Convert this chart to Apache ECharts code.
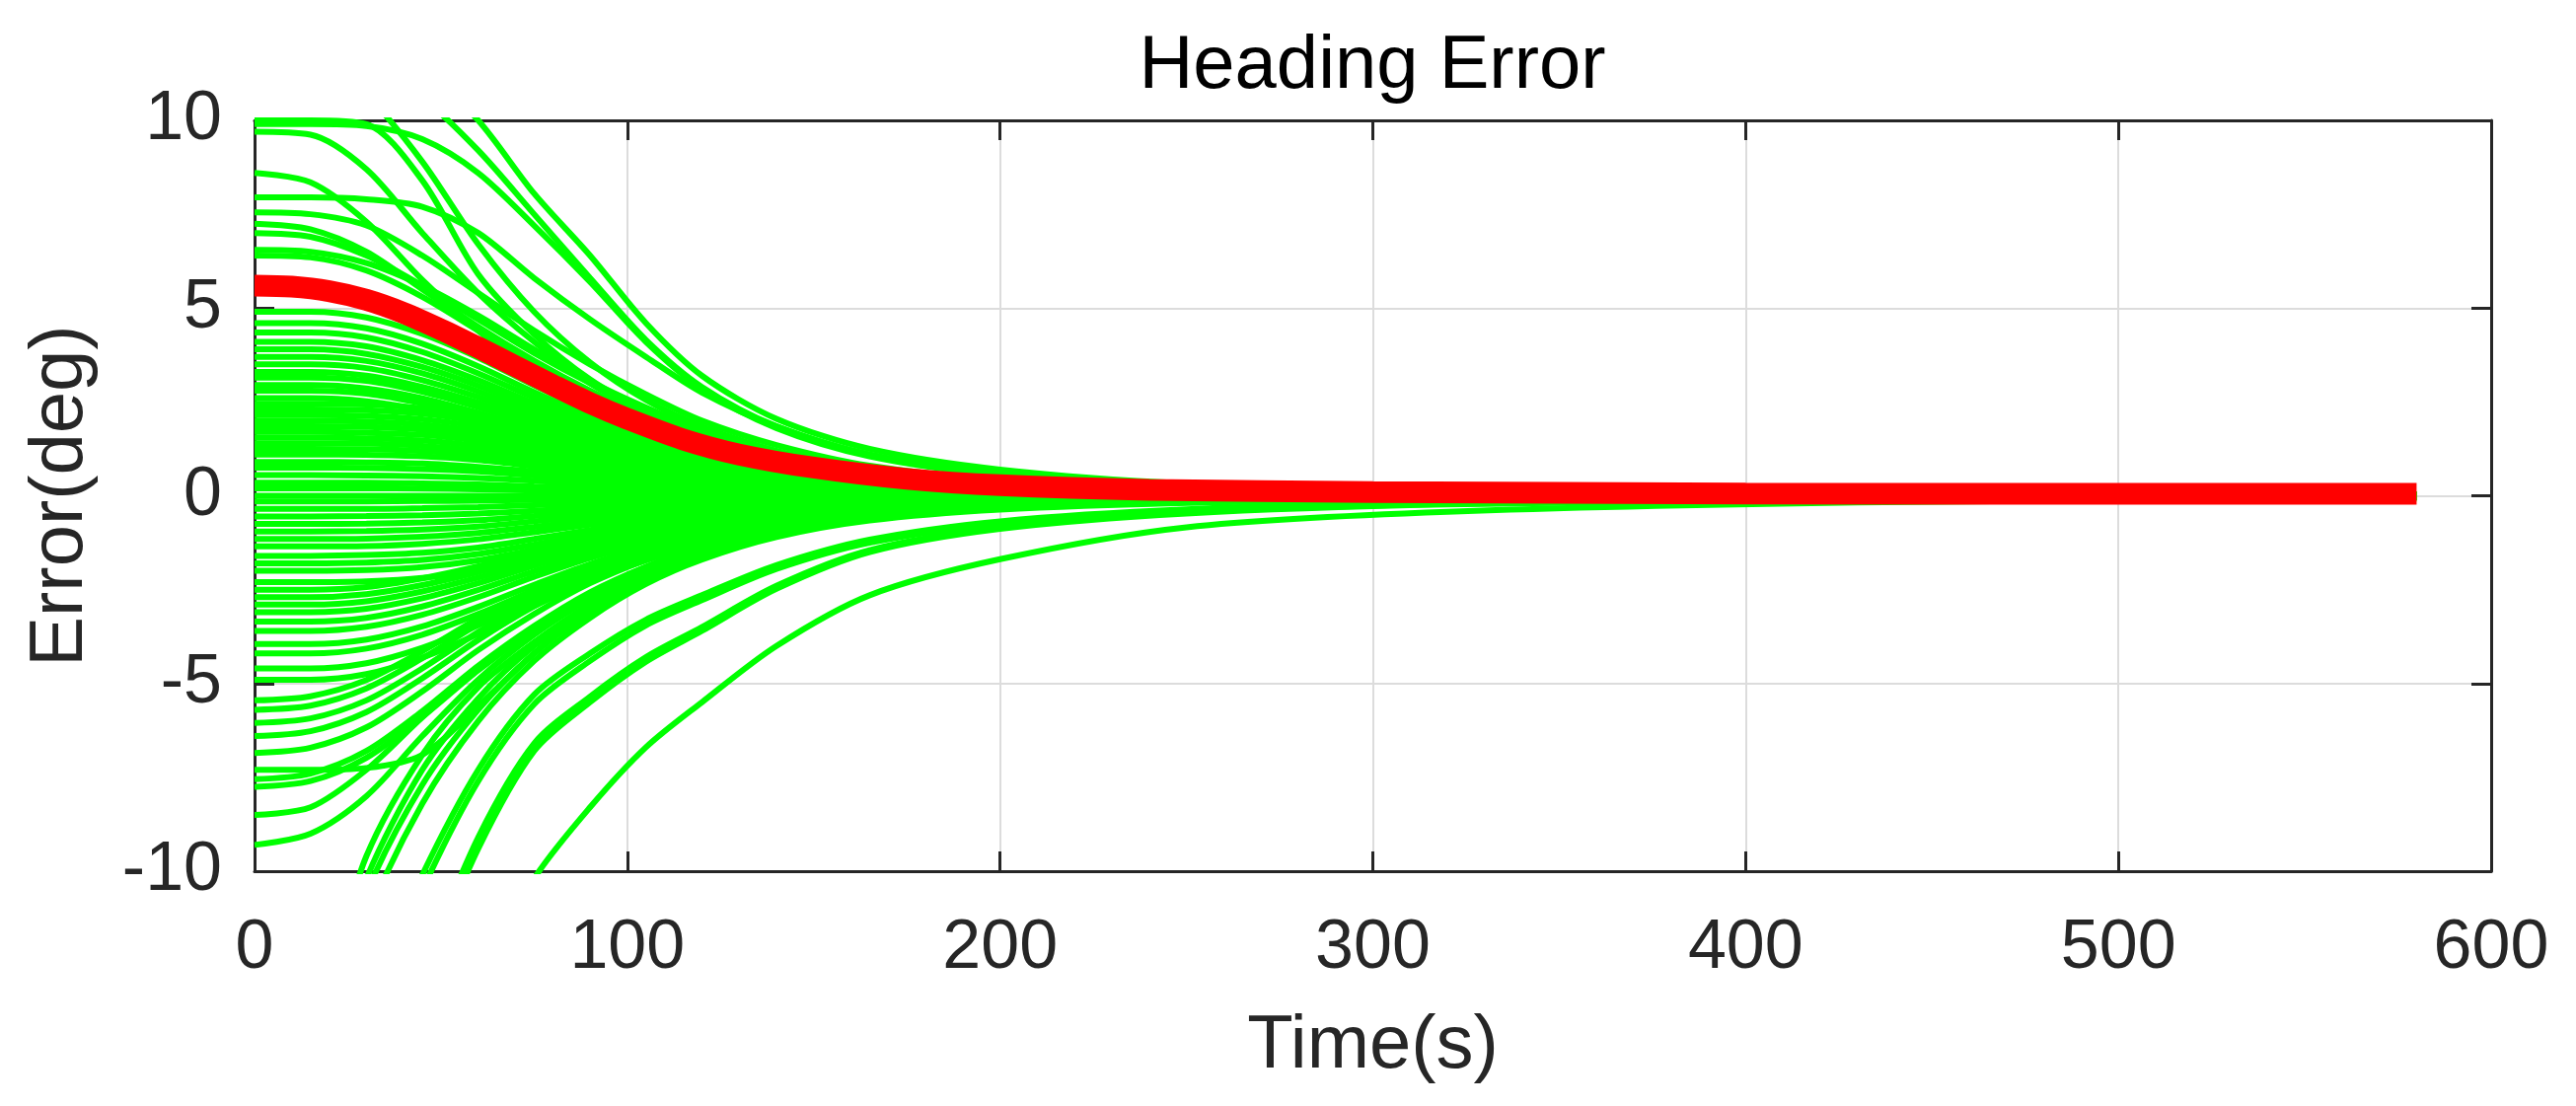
<!DOCTYPE html>
<html>
<head>
<meta charset="utf-8">
<script src="https://cdn.jsdelivr.net/npm/echarts@6/dist/echarts.min.js"></script>
<style>
html,body{margin:0;padding:0;background:#fff;}
#chart{width:2611px;height:1121px;}
</style>
</head>
<body>
<div id="chart"></div>
<script>
// ---------- data ----------
const xTicks = [0, 100, 200, 300, 400, 500, 600];
const yTicks = [-10, -5, 0, 5, 10];

// shared time samples (s) for the green runs
const timeGrid = [0, 15, 30, 45, 60, 75, 90, 105, 120, 140, 165, 200, 250, 320, 430, 580];

// runs that start high (some enter from above the axis)
const greenUpper = [
  [10.0, 10.0, 9.9, 8.4, 5.9, 4.3, 3.1, 2.25, 1.6, 1.05, 0.62, 0.33, 0.16, 0.08, 0.04, 0.02],
  [12.5, 12.0, 10.7, 8.9, 6.7, 4.9, 3.55, 2.55, 1.85, 1.2, 0.7, 0.37, 0.18, 0.09, 0.04, 0.02],
  [12.0, 11.9, 11.5, 10.6, 9.2, 7.5, 5.8, 4.15, 2.9, 1.85, 1.1, 0.6, 0.3, 0.14, 0.06, 0.03],
  [12.6, 12.5, 12.2, 11.4, 10.0, 8.05, 6.4, 4.6, 3.2, 2.05, 1.25, 0.7, 0.33, 0.16, 0.07, 0.03],
  [9.9, 9.9, 9.85, 9.5, 8.6, 7.2, 5.7, 4.1, 2.85, 1.8, 1.05, 0.55, 0.27, 0.13, 0.06, 0.03],
  [9.7, 9.62, 8.7, 7.0, 5.4, 4.1, 3.0, 2.2, 1.6, 1.0, 0.6, 0.32, 0.16, 0.08, 0.04, 0.02],
  [8.6, 8.35, 7.3, 5.75, 4.4, 3.3, 2.45, 1.8, 1.3, 0.85, 0.5, 0.27, 0.14, 0.07, 0.03, 0.015],
  [7.95, 7.95, 7.9, 7.7, 7.0, 5.8, 4.7, 3.7, 2.75, 1.85, 1.1, 0.58, 0.28, 0.13, 0.06, 0.03],
  [7.55, 7.5, 7.2, 6.4, 5.4, 4.4, 3.5, 2.7, 2.0, 1.35, 0.8, 0.42, 0.2, 0.1, 0.05, 0.02],
  [7.25, 7.1, 6.5, 5.5, 4.5, 3.6, 2.8, 2.1, 1.55, 1.0, 0.6, 0.32, 0.16, 0.08, 0.04, 0.02],
  [7.0, 6.9, 6.4, 5.6, 4.7, 3.8, 3.0, 2.3, 1.7, 1.1, 0.65, 0.35, 0.17, 0.08, 0.04, 0.02],
  [6.55, 6.5, 6.2, 5.6, 4.8, 3.9, 3.05, 2.35, 1.75, 1.15, 0.68, 0.36, 0.18, 0.09, 0.04, 0.02],
  [6.4, 6.35, 6.0, 5.3, 4.4, 3.5, 2.7, 2.0, 1.5, 1.0, 0.6, 0.32, 0.16, 0.08, 0.04, 0.02]
];

// dense band of runs with moderate positive start
const greenMidPos = [
  [4.9, 4.9, 4.75, 4.31, 3.68, 2.94, 2.25, 1.72, 1.27, 0.83, 0.49, 0.27, 0.14, 0.07, 0.03, 0.01],
  [4.6, 4.6, 4.46, 4.05, 3.45, 2.76, 2.12, 1.61, 1.2, 0.78, 0.46, 0.25, 0.13, 0.06, 0.03, 0.01],
  [4.35, 4.35, 4.22, 3.83, 3.26, 2.61, 2.0, 1.52, 1.13, 0.74, 0.44, 0.24, 0.12, 0.06, 0.03, 0.01],
  [4.1, 4.1, 3.98, 3.61, 3.08, 2.46, 1.89, 1.44, 1.07, 0.7, 0.41, 0.23, 0.11, 0.06, 0.02, 0.01],
  [3.9, 3.9, 3.78, 3.43, 2.93, 2.34, 1.79, 1.37, 1.01, 0.66, 0.39, 0.21, 0.11, 0.05, 0.02, 0.01],
  [3.7, 3.7, 3.59, 3.26, 2.78, 2.22, 1.7, 1.3, 0.96, 0.63, 0.37, 0.2, 0.1, 0.05, 0.02, 0.01],
  [3.5, 3.5, 3.4, 3.08, 2.63, 2.1, 1.61, 1.23, 0.91, 0.6, 0.35, 0.19, 0.1, 0.05, 0.02, 0.01],
  [3.3, 3.3, 3.2, 2.9, 2.48, 1.98, 1.52, 1.16, 0.86, 0.56, 0.33, 0.18, 0.09, 0.05, 0.02, 0.01],
  [3.15, 3.15, 3.06, 2.77, 2.36, 1.89, 1.45, 1.1, 0.82, 0.54, 0.32, 0.17, 0.09, 0.04, 0.02, 0.01],
  [2.95, 2.95, 2.86, 2.6, 2.21, 1.77, 1.36, 1.03, 0.77, 0.5, 0.3, 0.16, 0.08, 0.04, 0.02, 0.01],
  [2.8, 2.8, 2.72, 2.46, 2.1, 1.68, 1.29, 0.98, 0.73, 0.48, 0.28, 0.15, 0.08, 0.04, 0.02, 0.01],
  [2.6, 2.6, 2.52, 2.29, 1.95, 1.56, 1.2, 0.91, 0.68, 0.44, 0.26, 0.14, 0.07, 0.04, 0.02, 0.01],
  [2.45, 2.45, 2.43, 2.33, 2.11, 1.76, 1.4, 1.08, 0.81, 0.54, 0.32, 0.17, 0.09, 0.04, 0.02, 0.01],
  [2.3, 2.3, 2.28, 2.19, 1.98, 1.66, 1.31, 1.01, 0.76, 0.51, 0.3, 0.16, 0.08, 0.04, 0.02, 0.01],
  [2.15, 2.15, 2.13, 2.04, 1.85, 1.55, 1.23, 0.95, 0.71, 0.47, 0.28, 0.15, 0.08, 0.04, 0.02, 0.01],
  [2.0, 2.0, 1.98, 1.9, 1.72, 1.44, 1.14, 0.88, 0.66, 0.44, 0.26, 0.14, 0.07, 0.04, 0.02, 0.01],
  [1.85, 1.85, 1.83, 1.76, 1.59, 1.33, 1.05, 0.81, 0.61, 0.41, 0.24, 0.13, 0.06, 0.03, 0.01, 0.01],
  [1.7, 1.7, 1.68, 1.62, 1.46, 1.22, 0.97, 0.75, 0.56, 0.37, 0.22, 0.12, 0.06, 0.03, 0.01, 0.01],
  [1.55, 1.55, 1.53, 1.47, 1.33, 1.12, 0.88, 0.68, 0.51, 0.34, 0.2, 0.11, 0.05, 0.03, 0.01, 0.01],
  [1.4, 1.4, 1.39, 1.33, 1.2, 1.01, 0.8, 0.62, 0.46, 0.31, 0.18, 0.1, 0.05, 0.03, 0.01, 0],
  [1.25, 1.25, 1.24, 1.19, 1.08, 0.9, 0.71, 0.55, 0.41, 0.28, 0.16, 0.09, 0.04, 0.02, 0.01, 0],
  [1.1, 1.1, 1.09, 1.05, 0.95, 0.79, 0.63, 0.48, 0.36, 0.24, 0.14, 0.08, 0.04, 0.02, 0.01, 0],
  [0.9, 0.9, 0.89, 0.86, 0.77, 0.65, 0.51, 0.4, 0.3, 0.2, 0.12, 0.06, 0.03, 0.02, 0.01, 0],
  [0.75, 0.75, 0.74, 0.71, 0.65, 0.54, 0.43, 0.33, 0.25, 0.17, 0.1, 0.05, 0.03, 0.01, 0.01, 0],
  [0.55, 0.55, 0.54, 0.52, 0.47, 0.4, 0.31, 0.24, 0.18, 0.12, 0.07, 0.04, 0.02, 0.01, 0, 0],
  [0.35, 0.35, 0.35, 0.33, 0.3, 0.25, 0.2, 0.15, 0.12, 0.08, 0.05, 0.02, 0.01, 0.01, 0, 0],
  [0.2, 0.2, 0.2, 0.19, 0.17, 0.14, 0.11, 0.09, 0.07, 0.04, 0.03, 0.01, 0.01, 0, 0, 0],
  [0, 0, 0, 0, 0, 0, 0, 0, 0, 0, 0, 0, 0, 0, 0, 0]
];

// dense band of runs with moderate negative start
const greenMidNeg = [
  [-0.15, -0.15, -0.15, -0.14, -0.13, -0.11, -0.09, -0.07, -0.05, -0.03, -0.02, -0.01, -0.01, 0, 0, 0],
  [-0.35, -0.35, -0.35, -0.33, -0.3, -0.25, -0.2, -0.15, -0.12, -0.08, -0.05, -0.02, -0.01, -0.01, 0, 0],
  [-0.55, -0.55, -0.54, -0.52, -0.47, -0.4, -0.31, -0.24, -0.18, -0.12, -0.07, -0.04, -0.02, -0.01, 0, 0],
  [-0.75, -0.75, -0.74, -0.71, -0.65, -0.54, -0.43, -0.33, -0.25, -0.17, -0.1, -0.05, -0.03, -0.01, -0.01, 0],
  [-0.95, -0.95, -0.94, -0.9, -0.82, -0.68, -0.54, -0.42, -0.31, -0.21, -0.12, -0.07, -0.03, -0.02, -0.01, 0],
  [-1.15, -1.15, -1.14, -1.09, -0.99, -0.83, -0.66, -0.51, -0.38, -0.25, -0.15, -0.08, -0.04, -0.02, -0.01, 0],
  [-1.35, -1.35, -1.34, -1.28, -1.16, -0.97, -0.77, -0.59, -0.45, -0.3, -0.18, -0.09, -0.05, -0.02, -0.01, 0],
  [-1.6, -1.6, -1.58, -1.52, -1.38, -1.15, -0.91, -0.7, -0.53, -0.35, -0.21, -0.11, -0.06, -0.03, -0.01, -0.01],
  [-1.8, -1.8, -1.78, -1.71, -1.55, -1.3, -1.03, -0.79, -0.59, -0.4, -0.23, -0.13, -0.06, -0.03, -0.01, -0.01],
  [-2.0, -2.0, -1.98, -1.9, -1.72, -1.44, -1.14, -0.88, -0.66, -0.44, -0.26, -0.14, -0.07, -0.04, -0.02, -0.01],
  [-2.3, -2.3, -2.28, -2.19, -1.98, -1.66, -1.31, -1.01, -0.76, -0.51, -0.3, -0.16, -0.08, -0.04, -0.02, -0.01],
  [-2.5, -2.5, -2.43, -2.2, -1.88, -1.5, -1.15, -0.88, -0.65, -0.43, -0.25, -0.14, -0.07, -0.04, -0.02, -0.01],
  [-2.7, -2.7, -2.62, -2.38, -2.03, -1.62, -1.24, -0.95, -0.7, -0.46, -0.27, -0.15, -0.08, -0.04, -0.02, -0.01],
  [-2.9, -2.9, -2.81, -2.55, -2.18, -1.74, -1.33, -1.02, -0.75, -0.49, -0.29, -0.16, -0.08, -0.04, -0.02, -0.01],
  [-3.1, -3.1, -3.01, -2.73, -2.33, -1.86, -1.43, -1.09, -0.81, -0.53, -0.31, -0.17, -0.09, -0.04, -0.02, -0.01],
  [-3.35, -3.35, -3.25, -2.95, -2.51, -2.01, -1.54, -1.17, -0.87, -0.57, -0.34, -0.18, -0.09, -0.05, -0.02, -0.01],
  [-3.6, -3.6, -3.49, -3.17, -2.7, -2.16, -1.66, -1.26, -0.94, -0.61, -0.36, -0.2, -0.1, -0.05, -0.02, -0.01],
  [-3.95, -3.95, -3.83, -3.48, -2.96, -2.37, -1.82, -1.38, -1.03, -0.67, -0.4, -0.22, -0.11, -0.06, -0.02, -0.01],
  [-4.2, -4.2, -4.07, -3.7, -3.15, -2.52, -1.93, -1.47, -1.09, -0.71, -0.42, -0.23, -0.12, -0.06, -0.03, -0.01],
  [-4.6, -4.6, -4.46, -4.05, -3.45, -2.76, -2.12, -1.61, -1.2, -0.78, -0.46, -0.25, -0.13, -0.06, -0.03, -0.01],
  [-4.9, -4.9, -4.75, -4.31, -3.68, -2.94, -2.25, -1.72, -1.27, -0.83, -0.49, -0.27, -0.14, -0.07, -0.03, -0.01]
];

// runs that start low (below -5)
const greenLower = [
  [-5.45, -5.34, -4.91, -4.14, -3.27, -2.51, -1.85, -1.36, -0.98, -0.63, -0.38, -0.22, -0.11, -0.05, -0.03, -0.01],
  [-5.7, -5.59, -5.13, -4.33, -3.42, -2.62, -1.94, -1.43, -1.03, -0.66, -0.4, -0.23, -0.11, -0.06, -0.03, -0.01],
  [-6.05, -5.93, -5.45, -4.6, -3.63, -2.78, -2.06, -1.51, -1.09, -0.7, -0.42, -0.24, -0.12, -0.06, -0.03, -0.01],
  [-6.4, -6.27, -5.76, -4.86, -3.84, -2.94, -2.18, -1.6, -1.15, -0.74, -0.45, -0.26, -0.13, -0.06, -0.03, -0.01],
  [-6.85, -6.71, -6.17, -5.21, -4.11, -3.15, -2.33, -1.71, -1.23, -0.79, -0.48, -0.27, -0.14, -0.07, -0.03, -0.01],
  [-7.3, -7.3, -7.25, -6.9, -5.6, -4.2, -3.0, -2.1, -1.5, -0.95, -0.56, -0.3, -0.15, -0.07, -0.03, -0.01],
  [-7.55, -7.4, -6.8, -5.74, -4.53, -3.47, -2.57, -1.89, -1.36, -0.87, -0.53, -0.3, -0.15, -0.08, -0.04, -0.02],
  [-7.75, -7.6, -6.98, -5.89, -4.65, -3.57, -2.64, -1.94, -1.4, -0.89, -0.54, -0.31, -0.16, -0.08, -0.04, -0.02],
  [-8.5, -8.3, -7.3, -5.9, -4.6, -3.5, -2.6, -1.9, -1.4, -0.9, -0.55, -0.31, -0.16, -0.08, -0.04, -0.02],
  [-9.3, -9.0, -8.0, -6.4, -4.9, -3.7, -2.75, -2.0, -1.45, -0.93, -0.57, -0.32, -0.16, -0.08, -0.04, -0.02]
];

// runs entering from below the axis
const greenEnterBelow = [
  [-15, -14, -9.6, -6.9, -5.1, -3.9, -2.9, -2.1, -1.5, -0.98, -0.58, -0.32, -0.16, -0.08, -0.04, -0.02],
  [-15.5, -14.5, -10.2, -7.3, -5.4, -4.0, -3.0, -2.15, -1.55, -1.0, -0.6, -0.33, -0.17, -0.08, -0.04, -0.02],
  [-16, -15, -10.6, -7.7, -5.7, -4.2, -3.1, -2.25, -1.62, -1.05, -0.63, -0.35, -0.18, -0.09, -0.04, -0.02],
  [-16.5, -15.6, -11.3, -8.2, -6.0, -4.4, -3.25, -2.35, -1.7, -1.1, -0.66, -0.37, -0.19, -0.09, -0.05, -0.02],
  [-17, -16.5, -13.5, -10.1, -7.3, -5.3, -4.2, -3.3, -2.65, -1.85, -1.17, -0.68, -0.36, -0.18, -0.08, -0.03],
  [-17.5, -17, -14, -10.5, -7.6, -5.55, -4.4, -3.45, -2.78, -1.95, -1.25, -0.74, -0.39, -0.19, -0.09, -0.03],
  [-18, -17.8, -16, -12.6, -9.1, -6.6, -5.35, -4.3, -3.5, -2.4, -1.45, -0.85, -0.45, -0.22, -0.1, -0.04],
  [-18.2, -18, -16.3, -12.9, -9.4, -6.8, -5.5, -4.42, -3.6, -2.48, -1.5, -0.88, -0.47, -0.23, -0.1, -0.04],
  [-19.5, -19.3, -18.3, -16, -13, -10.2, -8.3, -6.7, -5.5, -4.0, -2.65, -1.69, -0.84, -0.43, -0.18, -0.07]
];

// mean run (red)
const redTime = [0, 10, 20, 30, 40, 50, 60, 70, 80, 90, 100, 115, 130, 150, 175, 200, 240, 300, 400, 500, 580];
const redMean = [5.6, 5.57, 5.45, 5.22, 4.87, 4.43, 3.95, 3.45, 2.95, 2.47, 2.05, 1.5, 1.1, 0.75, 0.45, 0.28, 0.16, 0.1, 0.06, 0.05, 0.05];

// ---------- chart ----------
const FONT = '"Liberation Sans", Arial, Helvetica, sans-serif';
const AXIS_COLOR = '#262626';
const GREEN = '#00ff00';
const RED = '#ff0000';

const allGreen = [].concat(greenMidPos, greenMidNeg, greenLower, greenEnterBelow, greenUpper);
const series = allGreen.map(function (vals) {
  return {
    type: 'line',
    data: timeGrid.map(function (t, i) { return [t, vals[i]]; }),
    showSymbol: false,
    symbol: 'none',
    smooth: 0.3,
    clip: true,
    silent: true,
    z: 2,
    lineStyle: { color: GREEN, width: 6 }
  };
});
series.push({
  type: 'line',
  data: redTime.map(function (t, i) { return [t, redMean[i]]; }),
  showSymbol: false,
  symbol: 'none',
  smooth: 0.3,
  clip: true,
  silent: true,
  z: 5,
  lineStyle: { color: RED, width: 22, cap: 'butt' }
});

const axisLineStyle = { show: true, onZero: false, lineStyle: { color: AXIS_COLOR, width: 3 } };
const tickStyle = { show: true, inside: true, length: 20, lineStyle: { color: AXIS_COLOR, width: 3 } };
const gridLine = { show: true, lineStyle: { color: '#dcdcdc', width: 2 } };

const option = {
  animation: false,
  backgroundColor: '#ffffff',
  title: {
    text: 'Heading Error',
    left: 1391,
    top: 30,
    padding: 0,
    textAlign: 'center',
    textStyle: { fontFamily: FONT, fontSize: 76, fontWeight: 'normal', color: '#000000' }
  },
  grid: { left: 258, right: 86, top: 122, bottom: 238, containLabel: false },
  xAxis: [
    {
      type: 'value', min: xTicks[0], max: xTicks[xTicks.length - 1], interval: 100,
      position: 'bottom',
      axisLine: axisLineStyle, axisTick: tickStyle, splitLine: gridLine,
      axisLabel: { fontFamily: FONT, fontSize: 70, color: AXIS_COLOR, margin: 44 },
      name: 'Time(s)', nameLocation: 'middle', nameGap: 140,
      nameTextStyle: { fontFamily: FONT, fontSize: 76, color: AXIS_COLOR }
    },
    {
      type: 'value', min: xTicks[0], max: xTicks[xTicks.length - 1], interval: 100,
      position: 'top',
      axisLine: axisLineStyle, axisTick: tickStyle, splitLine: { show: false },
      axisLabel: { show: false }
    }
  ],
  yAxis: [
    {
      type: 'value', min: yTicks[0], max: yTicks[yTicks.length - 1], interval: 5,
      position: 'left',
      axisLine: axisLineStyle, axisTick: tickStyle, splitLine: gridLine,
      axisLabel: { fontFamily: FONT, fontSize: 70, color: AXIS_COLOR, margin: 33 },
      name: 'Error(deg)', nameLocation: 'middle', nameGap: 158, nameRotate: 90,
      nameTextStyle: { fontFamily: FONT, fontSize: 76, color: AXIS_COLOR }
    },
    {
      type: 'value', min: yTicks[0], max: yTicks[yTicks.length - 1], interval: 5,
      position: 'right',
      axisLine: axisLineStyle, axisTick: tickStyle, splitLine: { show: false },
      axisLabel: { show: false }
    }
  ],
  series: series
};

const chart = echarts.init(document.getElementById('chart'), null, { renderer: 'canvas' });
chart.setOption(option);
</script>
</body>
</html>
